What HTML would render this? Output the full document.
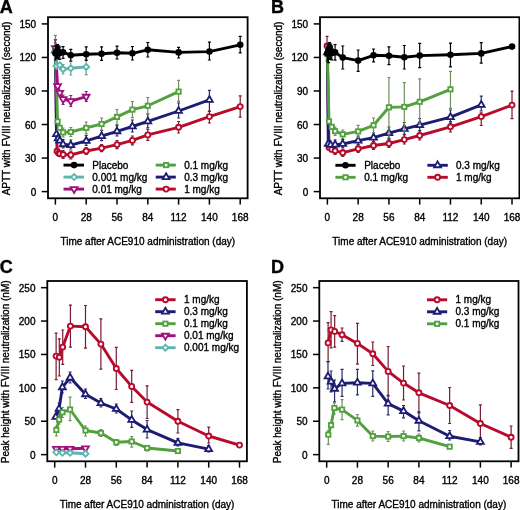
<!DOCTYPE html>
<html><head><meta charset="utf-8"><style>
html,body{margin:0;padding:0;background:#fff;}
body{width:520px;height:510px;overflow:hidden;}
svg{display:block;filter:blur(0.3px);}
text{font-family:"Liberation Sans", sans-serif;font-size:10px;fill:#000;stroke:#000;stroke-width:0.35px;}
.t{font-size:10px;}
</style></head><body>
<svg width="520" height="510" viewBox="0 0 520 510">
<rect width="520" height="510" fill="#fff"/>
<rect x="48" y="17.2" width="199.6" height="181.1" fill="none" stroke="#000" stroke-width="1.8"/>
<line x1="55.39" y1="198.3" x2="55.39" y2="204.6" stroke="#000" stroke-width="1.5"/>
<text class="t" x="55.39" y="220.9" text-anchor="middle">0</text>
<line x1="86.2" y1="198.3" x2="86.2" y2="204.6" stroke="#000" stroke-width="1.5"/>
<text class="t" x="86.2" y="220.9" text-anchor="middle">28</text>
<line x1="117" y1="198.3" x2="117" y2="204.6" stroke="#000" stroke-width="1.5"/>
<text class="t" x="117" y="220.9" text-anchor="middle">56</text>
<line x1="147.8" y1="198.3" x2="147.8" y2="204.6" stroke="#000" stroke-width="1.5"/>
<text class="t" x="147.8" y="220.9" text-anchor="middle">84</text>
<line x1="178.6" y1="198.3" x2="178.6" y2="204.6" stroke="#000" stroke-width="1.5"/>
<text class="t" x="178.6" y="220.9" text-anchor="middle">112</text>
<line x1="209.4" y1="198.3" x2="209.4" y2="204.6" stroke="#000" stroke-width="1.5"/>
<text class="t" x="209.4" y="220.9" text-anchor="middle">140</text>
<line x1="240.21" y1="198.3" x2="240.21" y2="204.6" stroke="#000" stroke-width="1.5"/>
<text class="t" x="240.21" y="220.9" text-anchor="middle">168</text>
<line x1="41.7" y1="191.59" x2="48" y2="191.59" stroke="#000" stroke-width="1.5"/>
<text class="t" x="36.2" y="195.59" text-anchor="end">0</text>
<line x1="41.7" y1="158.06" x2="48" y2="158.06" stroke="#000" stroke-width="1.5"/>
<text class="t" x="36.2" y="162.06" text-anchor="end">30</text>
<line x1="41.7" y1="124.52" x2="48" y2="124.52" stroke="#000" stroke-width="1.5"/>
<text class="t" x="36.2" y="128.52" text-anchor="end">60</text>
<line x1="41.7" y1="90.98" x2="48" y2="90.98" stroke="#000" stroke-width="1.5"/>
<text class="t" x="36.2" y="94.98" text-anchor="end">90</text>
<line x1="41.7" y1="57.44" x2="48" y2="57.44" stroke="#000" stroke-width="1.5"/>
<text class="t" x="36.2" y="61.44" text-anchor="end">120</text>
<line x1="41.7" y1="23.91" x2="48" y2="23.91" stroke="#000" stroke-width="1.5"/>
<text class="t" x="36.2" y="27.91" text-anchor="end">150</text>
<text x="147.8" y="244.5" text-anchor="middle">Time after ACE910 administration (day)</text>
<text transform="translate(10.1,108.45) rotate(-90)" text-anchor="middle">APTT with FVIII neutralization (second)</text>
<text x="-0.3" y="12.6" style="font-weight:bold;font-size:18px">A</text>
<path d="M55.39 51V43M53.89 43H56.89" stroke="#7a1a30" stroke-width="1.2" fill="none"/>
<path d="M55.39 51V58M53.89 58H56.89" stroke="#7a1a30" stroke-width="1.2" fill="none"/>
<path d="M63.09 154.5V150.5M61.59 150.5H64.59" stroke="#7a1a30" stroke-width="1.2" fill="none"/>
<path d="M63.09 154.5V158.5M61.59 158.5H64.59" stroke="#7a1a30" stroke-width="1.2" fill="none"/>
<path d="M70.79 154.9V151M69.29 151H72.29" stroke="#7a1a30" stroke-width="1.2" fill="none"/>
<path d="M70.79 154.9V159M69.29 159H72.29" stroke="#7a1a30" stroke-width="1.2" fill="none"/>
<path d="M86.2 151V147.5M84.7 147.5H87.7" stroke="#7a1a30" stroke-width="1.2" fill="none"/>
<path d="M86.2 151V154.5M84.7 154.5H87.7" stroke="#7a1a30" stroke-width="1.2" fill="none"/>
<path d="M101.6 148.1V144.5M100.1 144.5H103.1" stroke="#7a1a30" stroke-width="1.2" fill="none"/>
<path d="M101.6 148.1V151.7M100.1 151.7H103.1" stroke="#7a1a30" stroke-width="1.2" fill="none"/>
<path d="M117 144.6V140.5M115.5 140.5H118.5" stroke="#7a1a30" stroke-width="1.2" fill="none"/>
<path d="M117 144.6V148.7M115.5 148.7H118.5" stroke="#7a1a30" stroke-width="1.2" fill="none"/>
<path d="M132.4 140.4V136M130.9 136H133.9" stroke="#7a1a30" stroke-width="1.2" fill="none"/>
<path d="M132.4 140.4V144.8M130.9 144.8H133.9" stroke="#7a1a30" stroke-width="1.2" fill="none"/>
<path d="M147.8 134.9V129.5M146.3 129.5H149.3" stroke="#7a1a30" stroke-width="1.2" fill="none"/>
<path d="M147.8 134.9V140.3M146.3 140.3H149.3" stroke="#7a1a30" stroke-width="1.2" fill="none"/>
<path d="M178.6 127.3V121.5M177.1 121.5H180.1" stroke="#7a1a30" stroke-width="1.2" fill="none"/>
<path d="M178.6 127.3V133M177.1 133H180.1" stroke="#7a1a30" stroke-width="1.2" fill="none"/>
<path d="M209.4 116.6V111M207.9 111H210.9" stroke="#7a1a30" stroke-width="1.2" fill="none"/>
<path d="M209.4 116.6V123M207.9 123H210.9" stroke="#7a1a30" stroke-width="1.2" fill="none"/>
<path d="M240.21 106.6V95.9M238.71 95.9H241.71" stroke="#7a1a30" stroke-width="1.2" fill="none"/>
<path d="M240.21 106.6V117.2M238.71 117.2H241.71" stroke="#7a1a30" stroke-width="1.2" fill="none"/>
<polyline points="55.39,51 57.04,151.2 58.69,153.3 59.79,153.8 63.09,154.5 70.79,154.9 86.2,151 101.6,148.1 117,144.6 132.4,140.4 147.8,134.9 178.6,127.3 209.4,116.6 240.21,106.6" fill="none" stroke="#b80a2a" stroke-width="2.9" stroke-linejoin="round"/>
<circle cx="55.39" cy="51" r="2.5" fill="#fff" stroke="#b80a2a" stroke-width="1.9"/>
<circle cx="57.04" cy="151.2" r="2.5" fill="#fff" stroke="#b80a2a" stroke-width="1.9"/>
<circle cx="58.69" cy="153.3" r="2.5" fill="#fff" stroke="#b80a2a" stroke-width="1.9"/>
<circle cx="59.79" cy="153.8" r="2.5" fill="#fff" stroke="#b80a2a" stroke-width="1.9"/>
<circle cx="63.09" cy="154.5" r="2.5" fill="#fff" stroke="#b80a2a" stroke-width="1.9"/>
<circle cx="70.79" cy="154.9" r="2.5" fill="#fff" stroke="#b80a2a" stroke-width="1.9"/>
<circle cx="86.2" cy="151" r="2.5" fill="#fff" stroke="#b80a2a" stroke-width="1.9"/>
<circle cx="101.6" cy="148.1" r="2.5" fill="#fff" stroke="#b80a2a" stroke-width="1.9"/>
<circle cx="117" cy="144.6" r="2.5" fill="#fff" stroke="#b80a2a" stroke-width="1.9"/>
<circle cx="132.4" cy="140.4" r="2.5" fill="#fff" stroke="#b80a2a" stroke-width="1.9"/>
<circle cx="147.8" cy="134.9" r="2.5" fill="#fff" stroke="#b80a2a" stroke-width="1.9"/>
<circle cx="178.6" cy="127.3" r="2.5" fill="#fff" stroke="#b80a2a" stroke-width="1.9"/>
<circle cx="209.4" cy="116.6" r="2.5" fill="#fff" stroke="#b80a2a" stroke-width="1.9"/>
<circle cx="240.21" cy="106.6" r="2.5" fill="#fff" stroke="#b80a2a" stroke-width="1.9"/>
<path d="M55.39 50.5V39.6M53.89 39.6H56.89" stroke="#2c2c66" stroke-width="1.2" fill="none"/>
<path d="M55.39 50.5V57M53.89 57H56.89" stroke="#2c2c66" stroke-width="1.2" fill="none"/>
<path d="M63.09 144.3V139.5M61.59 139.5H64.59" stroke="#2c2c66" stroke-width="1.2" fill="none"/>
<path d="M63.09 144.3V148M61.59 148H64.59" stroke="#2c2c66" stroke-width="1.2" fill="none"/>
<path d="M70.79 145.1V140M69.29 140H72.29" stroke="#2c2c66" stroke-width="1.2" fill="none"/>
<path d="M70.79 145.1V149M69.29 149H72.29" stroke="#2c2c66" stroke-width="1.2" fill="none"/>
<path d="M86.2 140.9V135.5M84.7 135.5H87.7" stroke="#2c2c66" stroke-width="1.2" fill="none"/>
<path d="M86.2 140.9V145.3M84.7 145.3H87.7" stroke="#2c2c66" stroke-width="1.2" fill="none"/>
<path d="M101.6 136.1V130.5M100.1 130.5H103.1" stroke="#2c2c66" stroke-width="1.2" fill="none"/>
<path d="M101.6 136.1V140.7M100.1 140.7H103.1" stroke="#2c2c66" stroke-width="1.2" fill="none"/>
<path d="M117 131.3V125.5M115.5 125.5H118.5" stroke="#2c2c66" stroke-width="1.2" fill="none"/>
<path d="M117 131.3V136M115.5 136H118.5" stroke="#2c2c66" stroke-width="1.2" fill="none"/>
<path d="M132.4 126.5V120M130.9 120H133.9" stroke="#2c2c66" stroke-width="1.2" fill="none"/>
<path d="M132.4 126.5V132M130.9 132H133.9" stroke="#2c2c66" stroke-width="1.2" fill="none"/>
<path d="M147.8 121.4V114M146.3 114H149.3" stroke="#2c2c66" stroke-width="1.2" fill="none"/>
<path d="M147.8 121.4V127.8M146.3 127.8H149.3" stroke="#2c2c66" stroke-width="1.2" fill="none"/>
<path d="M178.6 111V103M177.1 103H180.1" stroke="#2c2c66" stroke-width="1.2" fill="none"/>
<path d="M178.6 111V118M177.1 118H180.1" stroke="#2c2c66" stroke-width="1.2" fill="none"/>
<path d="M209.4 99.9V90.3M207.9 90.3H210.9" stroke="#2c2c66" stroke-width="1.2" fill="none"/>
<path d="M209.4 99.9V111.5M207.9 111.5H210.9" stroke="#2c2c66" stroke-width="1.2" fill="none"/>
<polyline points="55.39,50.5 56.49,134.1 58.14,138.5 59.79,140.7 63.09,144.3 70.79,145.1 86.2,140.9 101.6,136.1 117,131.3 132.4,126.5 147.8,121.4 178.6,111 209.4,99.9" fill="none" stroke="#1c1c72" stroke-width="2.9" stroke-linejoin="round"/>
<path d="M55.39 46.6L58.79 52.45L51.99 52.45Z" fill="#fff" stroke="#1c1c72" stroke-width="1.8" stroke-linejoin="miter"/>
<path d="M56.49 130.2L59.89 136.05L53.09 136.05Z" fill="#fff" stroke="#1c1c72" stroke-width="1.8" stroke-linejoin="miter"/>
<path d="M58.14 134.6L61.54 140.45L54.74 140.45Z" fill="#fff" stroke="#1c1c72" stroke-width="1.8" stroke-linejoin="miter"/>
<path d="M59.79 136.8L63.19 142.65L56.39 142.65Z" fill="#fff" stroke="#1c1c72" stroke-width="1.8" stroke-linejoin="miter"/>
<path d="M63.09 140.4L66.49 146.25L59.69 146.25Z" fill="#fff" stroke="#1c1c72" stroke-width="1.8" stroke-linejoin="miter"/>
<path d="M70.79 141.2L74.19 147.05L67.39 147.05Z" fill="#fff" stroke="#1c1c72" stroke-width="1.8" stroke-linejoin="miter"/>
<path d="M86.2 137L89.6 142.85L82.8 142.85Z" fill="#fff" stroke="#1c1c72" stroke-width="1.8" stroke-linejoin="miter"/>
<path d="M101.6 132.2L105 138.05L98.2 138.05Z" fill="#fff" stroke="#1c1c72" stroke-width="1.8" stroke-linejoin="miter"/>
<path d="M117 127.4L120.4 133.25L113.6 133.25Z" fill="#fff" stroke="#1c1c72" stroke-width="1.8" stroke-linejoin="miter"/>
<path d="M132.4 122.6L135.8 128.45L129 128.45Z" fill="#fff" stroke="#1c1c72" stroke-width="1.8" stroke-linejoin="miter"/>
<path d="M147.8 117.5L151.2 123.35L144.4 123.35Z" fill="#fff" stroke="#1c1c72" stroke-width="1.8" stroke-linejoin="miter"/>
<path d="M178.6 107.1L182 112.95L175.2 112.95Z" fill="#fff" stroke="#1c1c72" stroke-width="1.8" stroke-linejoin="miter"/>
<path d="M209.4 96L212.8 101.85L206 101.85Z" fill="#fff" stroke="#1c1c72" stroke-width="1.8" stroke-linejoin="miter"/>
<path d="M55.39 50V35.4M53.89 35.4H56.89" stroke="#6f8f60" stroke-width="1.2" fill="none"/>
<path d="M55.39 50V58M53.89 58H56.89" stroke="#6f8f60" stroke-width="1.2" fill="none"/>
<path d="M63.09 132.4V128M61.59 128H64.59" stroke="#6f8f60" stroke-width="1.2" fill="none"/>
<path d="M63.09 132.4V137M61.59 137H64.59" stroke="#6f8f60" stroke-width="1.2" fill="none"/>
<path d="M70.79 132V127.5M69.29 127.5H72.29" stroke="#6f8f60" stroke-width="1.2" fill="none"/>
<path d="M70.79 132V136.5M69.29 136.5H72.29" stroke="#6f8f60" stroke-width="1.2" fill="none"/>
<path d="M86.2 127.9V122M84.7 122H87.7" stroke="#6f8f60" stroke-width="1.2" fill="none"/>
<path d="M86.2 127.9V133.8M84.7 133.8H87.7" stroke="#6f8f60" stroke-width="1.2" fill="none"/>
<path d="M101.6 124V118M100.1 118H103.1" stroke="#6f8f60" stroke-width="1.2" fill="none"/>
<path d="M101.6 124V130M100.1 130H103.1" stroke="#6f8f60" stroke-width="1.2" fill="none"/>
<path d="M117 116.9V109.5M115.5 109.5H118.5" stroke="#6f8f60" stroke-width="1.2" fill="none"/>
<path d="M117 116.9V124.3M115.5 124.3H118.5" stroke="#6f8f60" stroke-width="1.2" fill="none"/>
<path d="M132.4 109.6V101.5M130.9 101.5H133.9" stroke="#6f8f60" stroke-width="1.2" fill="none"/>
<path d="M132.4 109.6V117.7M130.9 117.7H133.9" stroke="#6f8f60" stroke-width="1.2" fill="none"/>
<path d="M147.8 105.8V97.5M146.3 97.5H149.3" stroke="#6f8f60" stroke-width="1.2" fill="none"/>
<path d="M147.8 105.8V114M146.3 114H149.3" stroke="#6f8f60" stroke-width="1.2" fill="none"/>
<path d="M178.6 91.6V80.4M177.1 80.4H180.1" stroke="#6f8f60" stroke-width="1.2" fill="none"/>
<path d="M178.6 91.6V101.3M177.1 101.3H180.1" stroke="#6f8f60" stroke-width="1.2" fill="none"/>
<polyline points="55.39,50 57.59,121.5 59.79,127.8 63.09,132.4 70.79,132 86.2,127.9 101.6,124 117,116.9 132.4,109.6 147.8,105.8 178.6,91.6" fill="none" stroke="#52a03e" stroke-width="2.9" stroke-linejoin="round"/>
<rect x="53.24" y="47.85" width="4.3" height="4.3" fill="#fff" stroke="#52a03e" stroke-width="1.8"/>
<rect x="55.44" y="119.35" width="4.3" height="4.3" fill="#fff" stroke="#52a03e" stroke-width="1.8"/>
<rect x="57.64" y="125.65" width="4.3" height="4.3" fill="#fff" stroke="#52a03e" stroke-width="1.8"/>
<rect x="60.94" y="130.25" width="4.3" height="4.3" fill="#fff" stroke="#52a03e" stroke-width="1.8"/>
<rect x="68.64" y="129.85" width="4.3" height="4.3" fill="#fff" stroke="#52a03e" stroke-width="1.8"/>
<rect x="84.05" y="125.75" width="4.3" height="4.3" fill="#fff" stroke="#52a03e" stroke-width="1.8"/>
<rect x="99.45" y="121.85" width="4.3" height="4.3" fill="#fff" stroke="#52a03e" stroke-width="1.8"/>
<rect x="114.85" y="114.75" width="4.3" height="4.3" fill="#fff" stroke="#52a03e" stroke-width="1.8"/>
<rect x="130.25" y="107.45" width="4.3" height="4.3" fill="#fff" stroke="#52a03e" stroke-width="1.8"/>
<rect x="145.65" y="103.65" width="4.3" height="4.3" fill="#fff" stroke="#52a03e" stroke-width="1.8"/>
<rect x="176.45" y="89.45" width="4.3" height="4.3" fill="#fff" stroke="#52a03e" stroke-width="1.8"/>
<path d="M55.39 48V40M53.89 40H56.89" stroke="#7a2a66" stroke-width="1.2" fill="none"/>
<path d="M55.39 48V57M53.89 57H56.89" stroke="#7a2a66" stroke-width="1.2" fill="none"/>
<path d="M63.09 99.1V95M61.59 95H64.59" stroke="#7a2a66" stroke-width="1.2" fill="none"/>
<path d="M63.09 99.1V104.5M61.59 104.5H64.59" stroke="#7a2a66" stroke-width="1.2" fill="none"/>
<path d="M70.79 101.1V95.5M69.29 95.5H72.29" stroke="#7a2a66" stroke-width="1.2" fill="none"/>
<path d="M70.79 101.1V106.5M69.29 106.5H72.29" stroke="#7a2a66" stroke-width="1.2" fill="none"/>
<path d="M86.2 96.7V91.5M84.7 91.5H87.7" stroke="#7a2a66" stroke-width="1.2" fill="none"/>
<path d="M86.2 96.7V101.5M84.7 101.5H87.7" stroke="#7a2a66" stroke-width="1.2" fill="none"/>
<polyline points="55.39,48 57.59,86.1 59.79,92.9 63.09,99.1 70.79,101.1 86.2,96.7" fill="none" stroke="#a0107e" stroke-width="2.9" stroke-linejoin="round"/>
<path d="M55.39 51.9L58.79 46.05L51.99 46.05Z" fill="#fff" stroke="#a0107e" stroke-width="1.8" stroke-linejoin="miter"/>
<path d="M57.59 90L60.99 84.15L54.19 84.15Z" fill="#fff" stroke="#a0107e" stroke-width="1.8" stroke-linejoin="miter"/>
<path d="M59.79 96.8L63.19 90.95L56.39 90.95Z" fill="#fff" stroke="#a0107e" stroke-width="1.8" stroke-linejoin="miter"/>
<path d="M63.09 103L66.49 97.15L59.69 97.15Z" fill="#fff" stroke="#a0107e" stroke-width="1.8" stroke-linejoin="miter"/>
<path d="M70.79 105L74.19 99.15L67.39 99.15Z" fill="#fff" stroke="#a0107e" stroke-width="1.8" stroke-linejoin="miter"/>
<path d="M86.2 100.6L89.6 94.75L82.8 94.75Z" fill="#fff" stroke="#a0107e" stroke-width="1.8" stroke-linejoin="miter"/>
<path d="M55.39 52V44M53.89 44H56.89" stroke="#6f9c98" stroke-width="1.2" fill="none"/>
<path d="M55.39 52V58M53.89 58H56.89" stroke="#6f9c98" stroke-width="1.2" fill="none"/>
<path d="M63.09 69.2V64.5M61.59 64.5H64.59" stroke="#6f9c98" stroke-width="1.2" fill="none"/>
<path d="M63.09 69.2V74M61.59 74H64.59" stroke="#6f9c98" stroke-width="1.2" fill="none"/>
<path d="M70.79 68.3V61.5M69.29 61.5H72.29" stroke="#6f9c98" stroke-width="1.2" fill="none"/>
<path d="M70.79 68.3V75M69.29 75H72.29" stroke="#6f9c98" stroke-width="1.2" fill="none"/>
<path d="M86.2 66.9V59M84.7 59H87.7" stroke="#6f9c98" stroke-width="1.2" fill="none"/>
<path d="M86.2 66.9V74.7M84.7 74.7H87.7" stroke="#6f9c98" stroke-width="1.2" fill="none"/>
<polyline points="55.39,52 56.49,66 59.79,65.2 63.09,69.2 70.79,68.3 86.2,66.9" fill="none" stroke="#5fb3ad" stroke-width="2.9" stroke-linejoin="round"/>
<path d="M55.39 49L58.39 52L55.39 55L52.39 52Z" fill="#fff" stroke="#5fb3ad" stroke-width="1.8"/>
<path d="M56.49 63L59.49 66L56.49 69L53.49 66Z" fill="#fff" stroke="#5fb3ad" stroke-width="1.8"/>
<path d="M59.79 62.2L62.79 65.2L59.79 68.2L56.79 65.2Z" fill="#fff" stroke="#5fb3ad" stroke-width="1.8"/>
<path d="M63.09 66.2L66.09 69.2L63.09 72.2L60.09 69.2Z" fill="#fff" stroke="#5fb3ad" stroke-width="1.8"/>
<path d="M70.79 65.3L73.79 68.3L70.79 71.3L67.79 68.3Z" fill="#fff" stroke="#5fb3ad" stroke-width="1.8"/>
<path d="M86.2 63.9L89.2 66.9L86.2 69.9L83.2 66.9Z" fill="#fff" stroke="#5fb3ad" stroke-width="1.8"/>
<path d="M55.39 53.3V46M53.89 46H56.89" stroke="#000000" stroke-width="1.2" fill="none"/>
<path d="M55.39 53.3V60M53.89 60H56.89" stroke="#000000" stroke-width="1.2" fill="none"/>
<path d="M56.49 51.5V45M54.99 45H57.99" stroke="#000000" stroke-width="1.2" fill="none"/>
<path d="M56.49 51.5V58.5M54.99 58.5H57.99" stroke="#000000" stroke-width="1.2" fill="none"/>
<path d="M57.59 51V44.5M56.09 44.5H59.09" stroke="#000000" stroke-width="1.2" fill="none"/>
<path d="M57.59 51V58M56.09 58H59.09" stroke="#000000" stroke-width="1.2" fill="none"/>
<path d="M58.69 52V46M57.19 46H60.19" stroke="#000000" stroke-width="1.2" fill="none"/>
<path d="M58.69 52V59M57.19 59H60.19" stroke="#000000" stroke-width="1.2" fill="none"/>
<path d="M59.79 53V47M58.29 47H61.29" stroke="#000000" stroke-width="1.2" fill="none"/>
<path d="M59.79 53V59.5M58.29 59.5H61.29" stroke="#000000" stroke-width="1.2" fill="none"/>
<path d="M63.09 52.3V46.7M61.59 46.7H64.59" stroke="#000000" stroke-width="1.2" fill="none"/>
<path d="M63.09 52.3V58.4M61.59 58.4H64.59" stroke="#000000" stroke-width="1.2" fill="none"/>
<path d="M70.79 55.2V49.4M69.29 49.4H72.29" stroke="#000000" stroke-width="1.2" fill="none"/>
<path d="M70.79 55.2V61M69.29 61H72.29" stroke="#000000" stroke-width="1.2" fill="none"/>
<path d="M86.2 54.2V46.9M84.7 46.9H87.7" stroke="#000000" stroke-width="1.2" fill="none"/>
<path d="M86.2 54.2V60.4M84.7 60.4H87.7" stroke="#000000" stroke-width="1.2" fill="none"/>
<path d="M101.6 53.7V46.9M100.1 46.9H103.1" stroke="#000000" stroke-width="1.2" fill="none"/>
<path d="M101.6 53.7V60.4M100.1 60.4H103.1" stroke="#000000" stroke-width="1.2" fill="none"/>
<path d="M117 52.7V46.2M115.5 46.2H118.5" stroke="#000000" stroke-width="1.2" fill="none"/>
<path d="M117 52.7V59M115.5 59H118.5" stroke="#000000" stroke-width="1.2" fill="none"/>
<path d="M132.4 53.3V46.5M130.9 46.5H133.9" stroke="#000000" stroke-width="1.2" fill="none"/>
<path d="M132.4 53.3V60M130.9 60H133.9" stroke="#000000" stroke-width="1.2" fill="none"/>
<path d="M147.8 49.8V42.5M146.3 42.5H149.3" stroke="#000000" stroke-width="1.2" fill="none"/>
<path d="M147.8 49.8V57M146.3 57H149.3" stroke="#000000" stroke-width="1.2" fill="none"/>
<path d="M178.6 52.4V47.3M177.1 47.3H180.1" stroke="#000000" stroke-width="1.2" fill="none"/>
<path d="M178.6 52.4V58M177.1 58H180.1" stroke="#000000" stroke-width="1.2" fill="none"/>
<path d="M209.4 51.6V42.2M207.9 42.2H210.9" stroke="#000000" stroke-width="1.2" fill="none"/>
<path d="M209.4 51.6V60M207.9 60H210.9" stroke="#000000" stroke-width="1.2" fill="none"/>
<path d="M240.21 44.8V36.4M238.71 36.4H241.71" stroke="#000000" stroke-width="1.2" fill="none"/>
<path d="M240.21 44.8V52.9M238.71 52.9H241.71" stroke="#000000" stroke-width="1.2" fill="none"/>
<polyline points="55.39,53.3 56.49,51.5 57.59,51 58.69,52 59.79,53 63.09,52.3 70.79,55.2 86.2,54.2 101.6,53.7 117,52.7 132.4,53.3 147.8,49.8 178.6,52.4 209.4,51.6 240.21,44.8" fill="none" stroke="#000000" stroke-width="2.9" stroke-linejoin="round"/>
<circle cx="55.39" cy="53.3" r="3.3" fill="#000000"/>
<circle cx="56.49" cy="51.5" r="3.3" fill="#000000"/>
<circle cx="57.59" cy="51" r="3.3" fill="#000000"/>
<circle cx="58.69" cy="52" r="3.3" fill="#000000"/>
<circle cx="59.79" cy="53" r="3.3" fill="#000000"/>
<circle cx="63.09" cy="52.3" r="3.3" fill="#000000"/>
<circle cx="70.79" cy="55.2" r="3.3" fill="#000000"/>
<circle cx="86.2" cy="54.2" r="3.3" fill="#000000"/>
<circle cx="101.6" cy="53.7" r="3.3" fill="#000000"/>
<circle cx="117" cy="52.7" r="3.3" fill="#000000"/>
<circle cx="132.4" cy="53.3" r="3.3" fill="#000000"/>
<circle cx="147.8" cy="49.8" r="3.3" fill="#000000"/>
<circle cx="178.6" cy="52.4" r="3.3" fill="#000000"/>
<circle cx="209.4" cy="51.6" r="3.3" fill="#000000"/>
<circle cx="240.21" cy="44.8" r="3.3" fill="#000000"/>
<line x1="63.5" y1="165.1" x2="84" y2="165.1" stroke="#000000" stroke-width="2.9"/>
<circle cx="74.1" cy="165.1" r="3.3" fill="#000000"/>
<text x="92.3" y="168.6">Placebo</text>
<line x1="63.5" y1="177.1" x2="84" y2="177.1" stroke="#5fb3ad" stroke-width="2.9"/>
<path d="M74.1 174.1L77.1 177.1L74.1 180.1L71.1 177.1Z" fill="#fff" stroke="#5fb3ad" stroke-width="1.8"/>
<text x="92.3" y="180.6">0.001 mg/kg</text>
<line x1="63.5" y1="189.1" x2="84" y2="189.1" stroke="#a0107e" stroke-width="2.9"/>
<path d="M74.1 193L77.5 187.15L70.7 187.15Z" fill="#fff" stroke="#a0107e" stroke-width="1.8" stroke-linejoin="miter"/>
<text x="92.3" y="192.6">0.01 mg/kg</text>
<line x1="155.7" y1="165.1" x2="175.8" y2="165.1" stroke="#52a03e" stroke-width="2.9"/>
<rect x="163.95" y="162.95" width="4.3" height="4.3" fill="#fff" stroke="#52a03e" stroke-width="1.8"/>
<text x="184.2" y="168.6">0.1 mg/kg</text>
<line x1="155.7" y1="177.1" x2="175.8" y2="177.1" stroke="#1c1c72" stroke-width="2.9"/>
<path d="M166.1 173.2L169.5 179.05L162.7 179.05Z" fill="#fff" stroke="#1c1c72" stroke-width="1.8" stroke-linejoin="miter"/>
<text x="184.2" y="180.6">0.3 mg/kg</text>
<line x1="155.7" y1="189.1" x2="175.8" y2="189.1" stroke="#b80a2a" stroke-width="2.9"/>
<circle cx="166.1" cy="189.1" r="2.5" fill="#fff" stroke="#b80a2a" stroke-width="1.9"/>
<text x="184.2" y="192.6">1 mg/kg</text>
<rect x="320" y="17.2" width="199.4" height="181.1" fill="none" stroke="#000" stroke-width="1.8"/>
<line x1="327.39" y1="198.3" x2="327.39" y2="204.6" stroke="#000" stroke-width="1.5"/>
<text class="t" x="327.39" y="220.9" text-anchor="middle">0</text>
<line x1="358.16" y1="198.3" x2="358.16" y2="204.6" stroke="#000" stroke-width="1.5"/>
<text class="t" x="358.16" y="220.9" text-anchor="middle">28</text>
<line x1="388.93" y1="198.3" x2="388.93" y2="204.6" stroke="#000" stroke-width="1.5"/>
<text class="t" x="388.93" y="220.9" text-anchor="middle">56</text>
<line x1="419.7" y1="198.3" x2="419.7" y2="204.6" stroke="#000" stroke-width="1.5"/>
<text class="t" x="419.7" y="220.9" text-anchor="middle">84</text>
<line x1="450.47" y1="198.3" x2="450.47" y2="204.6" stroke="#000" stroke-width="1.5"/>
<text class="t" x="450.47" y="220.9" text-anchor="middle">112</text>
<line x1="481.24" y1="198.3" x2="481.24" y2="204.6" stroke="#000" stroke-width="1.5"/>
<text class="t" x="481.24" y="220.9" text-anchor="middle">140</text>
<line x1="512.01" y1="198.3" x2="512.01" y2="204.6" stroke="#000" stroke-width="1.5"/>
<text class="t" x="512.01" y="220.9" text-anchor="middle">168</text>
<line x1="313.7" y1="191.59" x2="320" y2="191.59" stroke="#000" stroke-width="1.5"/>
<text class="t" x="308.2" y="195.59" text-anchor="end">0</text>
<line x1="313.7" y1="158.06" x2="320" y2="158.06" stroke="#000" stroke-width="1.5"/>
<text class="t" x="308.2" y="162.06" text-anchor="end">30</text>
<line x1="313.7" y1="124.52" x2="320" y2="124.52" stroke="#000" stroke-width="1.5"/>
<text class="t" x="308.2" y="128.52" text-anchor="end">60</text>
<line x1="313.7" y1="90.98" x2="320" y2="90.98" stroke="#000" stroke-width="1.5"/>
<text class="t" x="308.2" y="94.98" text-anchor="end">90</text>
<line x1="313.7" y1="57.44" x2="320" y2="57.44" stroke="#000" stroke-width="1.5"/>
<text class="t" x="308.2" y="61.44" text-anchor="end">120</text>
<line x1="313.7" y1="23.91" x2="320" y2="23.91" stroke="#000" stroke-width="1.5"/>
<text class="t" x="308.2" y="27.91" text-anchor="end">150</text>
<text x="419.7" y="244.5" text-anchor="middle">Time after ACE910 administration (day)</text>
<text transform="translate(282.1,108.45) rotate(-90)" text-anchor="middle">APTT with FVIII neutralization (second)</text>
<text x="271" y="12.6" style="font-weight:bold;font-size:18px">B</text>
<path d="M327.06 46V36.3M325.56 36.3H328.56" stroke="#7a1a30" stroke-width="1.2" fill="none"/>
<path d="M327.06 46V54M325.56 54H328.56" stroke="#7a1a30" stroke-width="1.2" fill="none"/>
<path d="M335.08 150.8V147M333.58 147H336.58" stroke="#7a1a30" stroke-width="1.2" fill="none"/>
<path d="M335.08 150.8V154.5M333.58 154.5H336.58" stroke="#7a1a30" stroke-width="1.2" fill="none"/>
<path d="M342.77 152.7V149M341.27 149H344.27" stroke="#7a1a30" stroke-width="1.2" fill="none"/>
<path d="M342.77 152.7V156.5M341.27 156.5H344.27" stroke="#7a1a30" stroke-width="1.2" fill="none"/>
<path d="M358.16 148.8V145M356.66 145H359.66" stroke="#7a1a30" stroke-width="1.2" fill="none"/>
<path d="M358.16 148.8V152.5M356.66 152.5H359.66" stroke="#7a1a30" stroke-width="1.2" fill="none"/>
<path d="M373.54 145.5V141.5M372.04 141.5H375.04" stroke="#7a1a30" stroke-width="1.2" fill="none"/>
<path d="M373.54 145.5V149.5M372.04 149.5H375.04" stroke="#7a1a30" stroke-width="1.2" fill="none"/>
<path d="M388.93 143.5V139.5M387.43 139.5H390.43" stroke="#7a1a30" stroke-width="1.2" fill="none"/>
<path d="M388.93 143.5V147.5M387.43 147.5H390.43" stroke="#7a1a30" stroke-width="1.2" fill="none"/>
<path d="M404.31 139.6V135M402.81 135H405.81" stroke="#7a1a30" stroke-width="1.2" fill="none"/>
<path d="M404.31 139.6V144M402.81 144H405.81" stroke="#7a1a30" stroke-width="1.2" fill="none"/>
<path d="M419.7 135.5V131M418.2 131H421.2" stroke="#7a1a30" stroke-width="1.2" fill="none"/>
<path d="M419.7 135.5V140M418.2 140H421.2" stroke="#7a1a30" stroke-width="1.2" fill="none"/>
<path d="M450.47 126.8V121.5M448.97 121.5H451.97" stroke="#7a1a30" stroke-width="1.2" fill="none"/>
<path d="M450.47 126.8V132M448.97 132H451.97" stroke="#7a1a30" stroke-width="1.2" fill="none"/>
<path d="M481.24 116.6V112.8M479.74 112.8H482.74" stroke="#7a1a30" stroke-width="1.2" fill="none"/>
<path d="M481.24 116.6V125.5M479.74 125.5H482.74" stroke="#7a1a30" stroke-width="1.2" fill="none"/>
<path d="M512.01 105.1V91.1M510.51 91.1H513.51" stroke="#7a1a30" stroke-width="1.2" fill="none"/>
<path d="M512.01 105.1V118.6M510.51 118.6H513.51" stroke="#7a1a30" stroke-width="1.2" fill="none"/>
<polyline points="327.06,46 329.03,147.5 331.78,149.4 335.08,150.8 342.77,152.7 358.16,148.8 373.54,145.5 388.93,143.5 404.31,139.6 419.7,135.5 450.47,126.8 481.24,116.6 512.01,105.1" fill="none" stroke="#b80a2a" stroke-width="2.9" stroke-linejoin="round"/>
<circle cx="327.06" cy="46" r="2.5" fill="#fff" stroke="#b80a2a" stroke-width="1.9"/>
<circle cx="329.03" cy="147.5" r="2.5" fill="#fff" stroke="#b80a2a" stroke-width="1.9"/>
<circle cx="331.78" cy="149.4" r="2.5" fill="#fff" stroke="#b80a2a" stroke-width="1.9"/>
<circle cx="335.08" cy="150.8" r="2.5" fill="#fff" stroke="#b80a2a" stroke-width="1.9"/>
<circle cx="342.77" cy="152.7" r="2.5" fill="#fff" stroke="#b80a2a" stroke-width="1.9"/>
<circle cx="358.16" cy="148.8" r="2.5" fill="#fff" stroke="#b80a2a" stroke-width="1.9"/>
<circle cx="373.54" cy="145.5" r="2.5" fill="#fff" stroke="#b80a2a" stroke-width="1.9"/>
<circle cx="388.93" cy="143.5" r="2.5" fill="#fff" stroke="#b80a2a" stroke-width="1.9"/>
<circle cx="404.31" cy="139.6" r="2.5" fill="#fff" stroke="#b80a2a" stroke-width="1.9"/>
<circle cx="419.7" cy="135.5" r="2.5" fill="#fff" stroke="#b80a2a" stroke-width="1.9"/>
<circle cx="450.47" cy="126.8" r="2.5" fill="#fff" stroke="#b80a2a" stroke-width="1.9"/>
<circle cx="481.24" cy="116.6" r="2.5" fill="#fff" stroke="#b80a2a" stroke-width="1.9"/>
<circle cx="512.01" cy="105.1" r="2.5" fill="#fff" stroke="#b80a2a" stroke-width="1.9"/>
<path d="M327.39 52.5V45M325.89 45H328.89" stroke="#2c2c66" stroke-width="1.2" fill="none"/>
<path d="M327.39 52.5V59M325.89 59H328.89" stroke="#2c2c66" stroke-width="1.2" fill="none"/>
<path d="M335.08 144.6V140M333.58 140H336.58" stroke="#2c2c66" stroke-width="1.2" fill="none"/>
<path d="M335.08 144.6V148M333.58 148H336.58" stroke="#2c2c66" stroke-width="1.2" fill="none"/>
<path d="M342.77 144V139.5M341.27 139.5H344.27" stroke="#2c2c66" stroke-width="1.2" fill="none"/>
<path d="M342.77 144V147.5M341.27 147.5H344.27" stroke="#2c2c66" stroke-width="1.2" fill="none"/>
<path d="M358.16 140.7V136M356.66 136H359.66" stroke="#2c2c66" stroke-width="1.2" fill="none"/>
<path d="M358.16 140.7V144.5M356.66 144.5H359.66" stroke="#2c2c66" stroke-width="1.2" fill="none"/>
<path d="M373.54 137.6V132.5M372.04 132.5H375.04" stroke="#2c2c66" stroke-width="1.2" fill="none"/>
<path d="M373.54 137.6V141.5M372.04 141.5H375.04" stroke="#2c2c66" stroke-width="1.2" fill="none"/>
<path d="M388.93 133.2V127M387.43 127H390.43" stroke="#2c2c66" stroke-width="1.2" fill="none"/>
<path d="M388.93 133.2V138.5M387.43 138.5H390.43" stroke="#2c2c66" stroke-width="1.2" fill="none"/>
<path d="M404.31 128.9V122.5M402.81 122.5H405.81" stroke="#2c2c66" stroke-width="1.2" fill="none"/>
<path d="M404.31 128.9V134.3M402.81 134.3H405.81" stroke="#2c2c66" stroke-width="1.2" fill="none"/>
<path d="M419.7 125.1V118.5M418.2 118.5H421.2" stroke="#2c2c66" stroke-width="1.2" fill="none"/>
<path d="M419.7 125.1V130.5M418.2 130.5H421.2" stroke="#2c2c66" stroke-width="1.2" fill="none"/>
<path d="M450.47 117.1V110M448.97 110H451.97" stroke="#2c2c66" stroke-width="1.2" fill="none"/>
<path d="M450.47 117.1V123.2M448.97 123.2H451.97" stroke="#2c2c66" stroke-width="1.2" fill="none"/>
<path d="M481.24 104.9V96.2M479.74 96.2H482.74" stroke="#2c2c66" stroke-width="1.2" fill="none"/>
<path d="M481.24 104.9V111M479.74 111H482.74" stroke="#2c2c66" stroke-width="1.2" fill="none"/>
<polyline points="327.39,52.5 328.26,144 330.68,145 335.08,144.6 342.77,144 358.16,140.7 373.54,137.6 388.93,133.2 404.31,128.9 419.7,125.1 450.47,117.1 481.24,104.9" fill="none" stroke="#1c1c72" stroke-width="2.9" stroke-linejoin="round"/>
<path d="M327.39 48.6L330.79 54.45L323.99 54.45Z" fill="#fff" stroke="#1c1c72" stroke-width="1.8" stroke-linejoin="miter"/>
<path d="M328.26 140.1L331.66 145.95L324.86 145.95Z" fill="#fff" stroke="#1c1c72" stroke-width="1.8" stroke-linejoin="miter"/>
<path d="M330.68 141.1L334.08 146.95L327.28 146.95Z" fill="#fff" stroke="#1c1c72" stroke-width="1.8" stroke-linejoin="miter"/>
<path d="M335.08 140.7L338.48 146.55L331.68 146.55Z" fill="#fff" stroke="#1c1c72" stroke-width="1.8" stroke-linejoin="miter"/>
<path d="M342.77 140.1L346.17 145.95L339.37 145.95Z" fill="#fff" stroke="#1c1c72" stroke-width="1.8" stroke-linejoin="miter"/>
<path d="M358.16 136.8L361.56 142.65L354.76 142.65Z" fill="#fff" stroke="#1c1c72" stroke-width="1.8" stroke-linejoin="miter"/>
<path d="M373.54 133.7L376.94 139.55L370.14 139.55Z" fill="#fff" stroke="#1c1c72" stroke-width="1.8" stroke-linejoin="miter"/>
<path d="M388.93 129.3L392.33 135.15L385.53 135.15Z" fill="#fff" stroke="#1c1c72" stroke-width="1.8" stroke-linejoin="miter"/>
<path d="M404.31 125L407.71 130.85L400.91 130.85Z" fill="#fff" stroke="#1c1c72" stroke-width="1.8" stroke-linejoin="miter"/>
<path d="M419.7 121.2L423.1 127.05L416.3 127.05Z" fill="#fff" stroke="#1c1c72" stroke-width="1.8" stroke-linejoin="miter"/>
<path d="M450.47 113.2L453.87 119.05L447.07 119.05Z" fill="#fff" stroke="#1c1c72" stroke-width="1.8" stroke-linejoin="miter"/>
<path d="M481.24 101L484.64 106.85L477.84 106.85Z" fill="#fff" stroke="#1c1c72" stroke-width="1.8" stroke-linejoin="miter"/>
<path d="M327.39 54V47M325.89 47H328.89" stroke="#6f8f60" stroke-width="1.2" fill="none"/>
<path d="M327.39 54V61M325.89 61H328.89" stroke="#6f8f60" stroke-width="1.2" fill="none"/>
<path d="M335.08 131.2V127M333.58 127H336.58" stroke="#6f8f60" stroke-width="1.2" fill="none"/>
<path d="M335.08 131.2V135.5M333.58 135.5H336.58" stroke="#6f8f60" stroke-width="1.2" fill="none"/>
<path d="M342.77 134.3V130M341.27 130H344.27" stroke="#6f8f60" stroke-width="1.2" fill="none"/>
<path d="M342.77 134.3V138.5M341.27 138.5H344.27" stroke="#6f8f60" stroke-width="1.2" fill="none"/>
<path d="M358.16 131.4V125.3M356.66 125.3H359.66" stroke="#6f8f60" stroke-width="1.2" fill="none"/>
<path d="M358.16 131.4V137.6M356.66 137.6H359.66" stroke="#6f8f60" stroke-width="1.2" fill="none"/>
<path d="M373.54 125.3V118M372.04 118H375.04" stroke="#6f8f60" stroke-width="1.2" fill="none"/>
<path d="M373.54 125.3V132.5M372.04 132.5H375.04" stroke="#6f8f60" stroke-width="1.2" fill="none"/>
<path d="M388.93 107.3V77.5M387.43 77.5H390.43" stroke="#6f8f60" stroke-width="1.2" fill="none"/>
<path d="M388.93 107.3V137.6M387.43 137.6H390.43" stroke="#6f8f60" stroke-width="1.2" fill="none"/>
<path d="M404.31 106.9V82.7M402.81 82.7H405.81" stroke="#6f8f60" stroke-width="1.2" fill="none"/>
<path d="M404.31 106.9V130.8M402.81 130.8H405.81" stroke="#6f8f60" stroke-width="1.2" fill="none"/>
<path d="M419.7 101.8V78.9M418.2 78.9H421.2" stroke="#6f8f60" stroke-width="1.2" fill="none"/>
<path d="M419.7 101.8V124.2M418.2 124.2H421.2" stroke="#6f8f60" stroke-width="1.2" fill="none"/>
<path d="M450.47 89.3V71.3M448.97 71.3H451.97" stroke="#6f8f60" stroke-width="1.2" fill="none"/>
<path d="M450.47 89.3V108.4M448.97 108.4H451.97" stroke="#6f8f60" stroke-width="1.2" fill="none"/>
<polyline points="327.39,54 329.03,121.4 331.78,126.9 335.08,131.2 342.77,134.3 358.16,131.4 373.54,125.3 388.93,107.3 404.31,106.9 419.7,101.8 450.47,89.3" fill="none" stroke="#52a03e" stroke-width="2.9" stroke-linejoin="round"/>
<rect x="325.24" y="51.85" width="4.3" height="4.3" fill="#fff" stroke="#52a03e" stroke-width="1.8"/>
<rect x="326.88" y="119.25" width="4.3" height="4.3" fill="#fff" stroke="#52a03e" stroke-width="1.8"/>
<rect x="329.63" y="124.75" width="4.3" height="4.3" fill="#fff" stroke="#52a03e" stroke-width="1.8"/>
<rect x="332.93" y="129.05" width="4.3" height="4.3" fill="#fff" stroke="#52a03e" stroke-width="1.8"/>
<rect x="340.62" y="132.15" width="4.3" height="4.3" fill="#fff" stroke="#52a03e" stroke-width="1.8"/>
<rect x="356.01" y="129.25" width="4.3" height="4.3" fill="#fff" stroke="#52a03e" stroke-width="1.8"/>
<rect x="371.39" y="123.15" width="4.3" height="4.3" fill="#fff" stroke="#52a03e" stroke-width="1.8"/>
<rect x="386.78" y="105.15" width="4.3" height="4.3" fill="#fff" stroke="#52a03e" stroke-width="1.8"/>
<rect x="402.16" y="104.75" width="4.3" height="4.3" fill="#fff" stroke="#52a03e" stroke-width="1.8"/>
<rect x="417.55" y="99.65" width="4.3" height="4.3" fill="#fff" stroke="#52a03e" stroke-width="1.8"/>
<rect x="448.32" y="87.15" width="4.3" height="4.3" fill="#fff" stroke="#52a03e" stroke-width="1.8"/>
<path d="M327.39 53.5V47M325.89 47H328.89" stroke="#000000" stroke-width="1.2" fill="none"/>
<path d="M327.39 53.5V61M325.89 61H328.89" stroke="#000000" stroke-width="1.2" fill="none"/>
<path d="M328.48 50.5V44M326.98 44H329.98" stroke="#000000" stroke-width="1.2" fill="none"/>
<path d="M328.48 50.5V62.7M326.98 62.7H329.98" stroke="#000000" stroke-width="1.2" fill="none"/>
<path d="M329.58 47.8V42.6M328.08 42.6H331.08" stroke="#000000" stroke-width="1.2" fill="none"/>
<path d="M329.58 47.8V59.3M328.08 59.3H331.08" stroke="#000000" stroke-width="1.2" fill="none"/>
<path d="M330.68 50.5V44.1M329.18 44.1H332.18" stroke="#000000" stroke-width="1.2" fill="none"/>
<path d="M330.68 50.5V59.3M329.18 59.3H332.18" stroke="#000000" stroke-width="1.2" fill="none"/>
<path d="M331.78 53V46M330.28 46H333.28" stroke="#000000" stroke-width="1.2" fill="none"/>
<path d="M331.78 53V60M330.28 60H333.28" stroke="#000000" stroke-width="1.2" fill="none"/>
<path d="M335.08 52.4V44.5M333.58 44.5H336.58" stroke="#000000" stroke-width="1.2" fill="none"/>
<path d="M335.08 52.4V60.2M333.58 60.2H336.58" stroke="#000000" stroke-width="1.2" fill="none"/>
<path d="M342.77 57.6V46M341.27 46H344.27" stroke="#000000" stroke-width="1.2" fill="none"/>
<path d="M342.77 57.6V69M341.27 69H344.27" stroke="#000000" stroke-width="1.2" fill="none"/>
<path d="M358.16 60.6V50M356.66 50H359.66" stroke="#000000" stroke-width="1.2" fill="none"/>
<path d="M358.16 60.6V71.4M356.66 71.4H359.66" stroke="#000000" stroke-width="1.2" fill="none"/>
<path d="M373.54 55.3V49M372.04 49H375.04" stroke="#000000" stroke-width="1.2" fill="none"/>
<path d="M373.54 55.3V61.8M372.04 61.8H375.04" stroke="#000000" stroke-width="1.2" fill="none"/>
<path d="M388.93 55.7V46.9M387.43 46.9H390.43" stroke="#000000" stroke-width="1.2" fill="none"/>
<path d="M388.93 55.7V64.7M387.43 64.7H390.43" stroke="#000000" stroke-width="1.2" fill="none"/>
<path d="M404.31 57.3V45.5M402.81 45.5H405.81" stroke="#000000" stroke-width="1.2" fill="none"/>
<path d="M404.31 57.3V69M402.81 69H405.81" stroke="#000000" stroke-width="1.2" fill="none"/>
<path d="M419.7 55.6V43.3M418.2 43.3H421.2" stroke="#000000" stroke-width="1.2" fill="none"/>
<path d="M419.7 55.6V67.7M418.2 67.7H421.2" stroke="#000000" stroke-width="1.2" fill="none"/>
<path d="M450.47 54.7V43.2M448.97 43.2H451.97" stroke="#000000" stroke-width="1.2" fill="none"/>
<path d="M450.47 54.7V66.9M448.97 66.9H451.97" stroke="#000000" stroke-width="1.2" fill="none"/>
<path d="M481.24 53.4V42.7M479.74 42.7H482.74" stroke="#000000" stroke-width="1.2" fill="none"/>
<path d="M481.24 53.4V63.1M479.74 63.1H482.74" stroke="#000000" stroke-width="1.2" fill="none"/>
<polyline points="327.39,53.5 328.48,50.5 329.58,47.8 330.68,50.5 331.78,53 335.08,52.4 342.77,57.6 358.16,60.6 373.54,55.3 388.93,55.7 404.31,57.3 419.7,55.6 450.47,54.7 481.24,53.4 512.01,46.6" fill="none" stroke="#000000" stroke-width="2.9" stroke-linejoin="round"/>
<circle cx="327.39" cy="53.5" r="3.3" fill="#000000"/>
<circle cx="328.48" cy="50.5" r="3.3" fill="#000000"/>
<circle cx="329.58" cy="47.8" r="3.3" fill="#000000"/>
<circle cx="330.68" cy="50.5" r="3.3" fill="#000000"/>
<circle cx="331.78" cy="53" r="3.3" fill="#000000"/>
<circle cx="335.08" cy="52.4" r="3.3" fill="#000000"/>
<circle cx="342.77" cy="57.6" r="3.3" fill="#000000"/>
<circle cx="358.16" cy="60.6" r="3.3" fill="#000000"/>
<circle cx="373.54" cy="55.3" r="3.3" fill="#000000"/>
<circle cx="388.93" cy="55.7" r="3.3" fill="#000000"/>
<circle cx="404.31" cy="57.3" r="3.3" fill="#000000"/>
<circle cx="419.7" cy="55.6" r="3.3" fill="#000000"/>
<circle cx="450.47" cy="54.7" r="3.3" fill="#000000"/>
<circle cx="481.24" cy="53.4" r="3.3" fill="#000000"/>
<circle cx="512.01" cy="46.6" r="3.3" fill="#000000"/>
<line x1="335.4" y1="165.3" x2="355.6" y2="165.3" stroke="#000000" stroke-width="2.9"/>
<circle cx="345.5" cy="165.3" r="3.3" fill="#000000"/>
<text x="364.2" y="168.8">Placebo</text>
<line x1="335.4" y1="177.3" x2="355.6" y2="177.3" stroke="#52a03e" stroke-width="2.9"/>
<rect x="343.35" y="175.15" width="4.3" height="4.3" fill="#fff" stroke="#52a03e" stroke-width="1.8"/>
<text x="364.2" y="180.8">0.1 mg/kg</text>
<line x1="427.4" y1="165.3" x2="447.8" y2="165.3" stroke="#1c1c72" stroke-width="2.9"/>
<path d="M437.6 161.4L441 167.25L434.2 167.25Z" fill="#fff" stroke="#1c1c72" stroke-width="1.8" stroke-linejoin="miter"/>
<text x="456" y="168.8">0.3 mg/kg</text>
<line x1="427.4" y1="177.3" x2="447.8" y2="177.3" stroke="#b80a2a" stroke-width="2.9"/>
<circle cx="437.6" cy="177.3" r="2.5" fill="#fff" stroke="#b80a2a" stroke-width="1.9"/>
<text x="456" y="180.8">1 mg/kg</text>
<rect x="47.3" y="281" width="199.6" height="180.3" fill="none" stroke="#000" stroke-width="1.8"/>
<line x1="54.69" y1="461.3" x2="54.69" y2="467.6" stroke="#000" stroke-width="1.5"/>
<text class="t" x="54.69" y="483.9" text-anchor="middle">0</text>
<line x1="85.5" y1="461.3" x2="85.5" y2="467.6" stroke="#000" stroke-width="1.5"/>
<text class="t" x="85.5" y="483.9" text-anchor="middle">28</text>
<line x1="116.3" y1="461.3" x2="116.3" y2="467.6" stroke="#000" stroke-width="1.5"/>
<text class="t" x="116.3" y="483.9" text-anchor="middle">56</text>
<line x1="147.1" y1="461.3" x2="147.1" y2="467.6" stroke="#000" stroke-width="1.5"/>
<text class="t" x="147.1" y="483.9" text-anchor="middle">84</text>
<line x1="177.9" y1="461.3" x2="177.9" y2="467.6" stroke="#000" stroke-width="1.5"/>
<text class="t" x="177.9" y="483.9" text-anchor="middle">112</text>
<line x1="208.7" y1="461.3" x2="208.7" y2="467.6" stroke="#000" stroke-width="1.5"/>
<text class="t" x="208.7" y="483.9" text-anchor="middle">140</text>
<line x1="239.51" y1="461.3" x2="239.51" y2="467.6" stroke="#000" stroke-width="1.5"/>
<text class="t" x="239.51" y="483.9" text-anchor="middle">168</text>
<line x1="41" y1="454.62" x2="47.3" y2="454.62" stroke="#000" stroke-width="1.5"/>
<text class="t" x="35.5" y="458.62" text-anchor="end">0</text>
<line x1="41" y1="421.23" x2="47.3" y2="421.23" stroke="#000" stroke-width="1.5"/>
<text class="t" x="35.5" y="425.23" text-anchor="end">50</text>
<line x1="41" y1="387.84" x2="47.3" y2="387.84" stroke="#000" stroke-width="1.5"/>
<text class="t" x="35.5" y="391.84" text-anchor="end">100</text>
<line x1="41" y1="354.46" x2="47.3" y2="354.46" stroke="#000" stroke-width="1.5"/>
<text class="t" x="35.5" y="358.46" text-anchor="end">150</text>
<line x1="41" y1="321.07" x2="47.3" y2="321.07" stroke="#000" stroke-width="1.5"/>
<text class="t" x="35.5" y="325.07" text-anchor="end">200</text>
<line x1="41" y1="287.68" x2="47.3" y2="287.68" stroke="#000" stroke-width="1.5"/>
<text class="t" x="35.5" y="291.68" text-anchor="end">250</text>
<text x="147.1" y="507.5" text-anchor="middle">Time after ACE910 administration (day)</text>
<text transform="translate(9.4,371.85) rotate(-90)" text-anchor="middle">Peak height with FVIII neutralization (nM)</text>
<text x="-0.3" y="272.6" style="font-weight:bold;font-size:18px">C</text>
<path d="M56.12 356.1V333.1M54.62 333.1H57.62" stroke="#7a1a30" stroke-width="1.2" fill="none"/>
<path d="M56.12 356.1V379.6M54.62 379.6H57.62" stroke="#7a1a30" stroke-width="1.2" fill="none"/>
<path d="M59.31 357.3V338.8M57.81 338.8H60.81" stroke="#7a1a30" stroke-width="1.2" fill="none"/>
<path d="M59.31 357.3V376M57.81 376H60.81" stroke="#7a1a30" stroke-width="1.2" fill="none"/>
<path d="M62.72 347.1V330M61.22 330H64.22" stroke="#7a1a30" stroke-width="1.2" fill="none"/>
<path d="M62.72 347.1V364.3M61.22 364.3H64.22" stroke="#7a1a30" stroke-width="1.2" fill="none"/>
<path d="M70.42 326.1V305.1M68.92 305.1H71.92" stroke="#7a1a30" stroke-width="1.2" fill="none"/>
<path d="M70.42 326.1V347.1M68.92 347.1H71.92" stroke="#7a1a30" stroke-width="1.2" fill="none"/>
<path d="M85.5 326.7V305.5M84 305.5H87" stroke="#7a1a30" stroke-width="1.2" fill="none"/>
<path d="M85.5 326.7V348.2M84 348.2H87" stroke="#7a1a30" stroke-width="1.2" fill="none"/>
<path d="M100.9 344.1V318.8M99.4 318.8H102.4" stroke="#7a1a30" stroke-width="1.2" fill="none"/>
<path d="M100.9 344.1V369.2M99.4 369.2H102.4" stroke="#7a1a30" stroke-width="1.2" fill="none"/>
<path d="M116.3 368.5V347.3M114.8 347.3H117.8" stroke="#7a1a30" stroke-width="1.2" fill="none"/>
<path d="M116.3 368.5V389.5M114.8 389.5H117.8" stroke="#7a1a30" stroke-width="1.2" fill="none"/>
<path d="M131.7 386.4V370.4M130.2 370.4H133.2" stroke="#7a1a30" stroke-width="1.2" fill="none"/>
<path d="M131.7 386.4V402.3M130.2 402.3H133.2" stroke="#7a1a30" stroke-width="1.2" fill="none"/>
<path d="M147.1 402.1V385.9M145.6 385.9H148.6" stroke="#7a1a30" stroke-width="1.2" fill="none"/>
<path d="M147.1 402.1V418.5M145.6 418.5H148.6" stroke="#7a1a30" stroke-width="1.2" fill="none"/>
<path d="M177.9 421.2V409.6M176.4 409.6H179.4" stroke="#7a1a30" stroke-width="1.2" fill="none"/>
<path d="M177.9 421.2V433M176.4 433H179.4" stroke="#7a1a30" stroke-width="1.2" fill="none"/>
<path d="M208.7 436V427.1M207.2 427.1H210.2" stroke="#7a1a30" stroke-width="1.2" fill="none"/>
<path d="M208.7 436V443M207.2 443H210.2" stroke="#7a1a30" stroke-width="1.2" fill="none"/>
<polyline points="56.12,356.1 59.31,357.3 62.72,347.1 70.42,326.1 85.5,326.7 100.9,344.1 116.3,368.5 131.7,386.4 147.1,402.1 177.9,421.2 208.7,436 239.51,445.1" fill="none" stroke="#b80a2a" stroke-width="2.9" stroke-linejoin="round"/>
<circle cx="56.12" cy="356.1" r="2.5" fill="#fff" stroke="#b80a2a" stroke-width="1.9"/>
<circle cx="59.31" cy="357.3" r="2.5" fill="#fff" stroke="#b80a2a" stroke-width="1.9"/>
<circle cx="62.72" cy="347.1" r="2.5" fill="#fff" stroke="#b80a2a" stroke-width="1.9"/>
<circle cx="70.42" cy="326.1" r="2.5" fill="#fff" stroke="#b80a2a" stroke-width="1.9"/>
<circle cx="85.5" cy="326.7" r="2.5" fill="#fff" stroke="#b80a2a" stroke-width="1.9"/>
<circle cx="100.9" cy="344.1" r="2.5" fill="#fff" stroke="#b80a2a" stroke-width="1.9"/>
<circle cx="116.3" cy="368.5" r="2.5" fill="#fff" stroke="#b80a2a" stroke-width="1.9"/>
<circle cx="131.7" cy="386.4" r="2.5" fill="#fff" stroke="#b80a2a" stroke-width="1.9"/>
<circle cx="147.1" cy="402.1" r="2.5" fill="#fff" stroke="#b80a2a" stroke-width="1.9"/>
<circle cx="177.9" cy="421.2" r="2.5" fill="#fff" stroke="#b80a2a" stroke-width="1.9"/>
<circle cx="208.7" cy="436" r="2.5" fill="#fff" stroke="#b80a2a" stroke-width="1.9"/>
<circle cx="239.51" cy="445.1" r="2.5" fill="#fff" stroke="#b80a2a" stroke-width="1.9"/>
<path d="M59.09 408.8V403M57.59 403H60.59" stroke="#2c2c66" stroke-width="1.2" fill="none"/>
<path d="M59.09 408.8V414M57.59 414H60.59" stroke="#2c2c66" stroke-width="1.2" fill="none"/>
<path d="M62.39 387.3V381M60.89 381H63.89" stroke="#2c2c66" stroke-width="1.2" fill="none"/>
<path d="M62.39 387.3V393M60.89 393H63.89" stroke="#2c2c66" stroke-width="1.2" fill="none"/>
<path d="M70.09 377.6V372M68.59 372H71.59" stroke="#2c2c66" stroke-width="1.2" fill="none"/>
<path d="M70.09 377.6V383M68.59 383H71.59" stroke="#2c2c66" stroke-width="1.2" fill="none"/>
<path d="M85.5 394.3V389M84 389H87" stroke="#2c2c66" stroke-width="1.2" fill="none"/>
<path d="M85.5 394.3V398.5M84 398.5H87" stroke="#2c2c66" stroke-width="1.2" fill="none"/>
<path d="M100.9 403.1V398.5M99.4 398.5H102.4" stroke="#2c2c66" stroke-width="1.2" fill="none"/>
<path d="M100.9 403.1V407M99.4 407H102.4" stroke="#2c2c66" stroke-width="1.2" fill="none"/>
<path d="M116.3 409V404M114.8 404H117.8" stroke="#2c2c66" stroke-width="1.2" fill="none"/>
<path d="M116.3 409V413M114.8 413H117.8" stroke="#2c2c66" stroke-width="1.2" fill="none"/>
<path d="M131.7 419.9V411M130.2 411H133.2" stroke="#2c2c66" stroke-width="1.2" fill="none"/>
<path d="M131.7 419.9V427.4M130.2 427.4H133.2" stroke="#2c2c66" stroke-width="1.2" fill="none"/>
<path d="M147.1 429.6V420.5M145.6 420.5H148.6" stroke="#2c2c66" stroke-width="1.2" fill="none"/>
<path d="M147.1 429.6V438M145.6 438H148.6" stroke="#2c2c66" stroke-width="1.2" fill="none"/>
<path d="M177.9 442.8V438.5M176.4 438.5H179.4" stroke="#2c2c66" stroke-width="1.2" fill="none"/>
<path d="M177.9 442.8V446M176.4 446H179.4" stroke="#2c2c66" stroke-width="1.2" fill="none"/>
<path d="M208.7 449.2V445.5M207.2 445.5H210.2" stroke="#2c2c66" stroke-width="1.2" fill="none"/>
<path d="M208.7 449.2V452M207.2 452H210.2" stroke="#2c2c66" stroke-width="1.2" fill="none"/>
<polyline points="55.79,417 59.09,408.8 62.39,387.3 70.09,377.6 85.5,394.3 100.9,403.1 116.3,409 131.7,419.9 147.1,429.6 177.9,442.8 208.7,449.2" fill="none" stroke="#1c1c72" stroke-width="2.9" stroke-linejoin="round"/>
<path d="M55.79 413.1L59.19 418.95L52.39 418.95Z" fill="#fff" stroke="#1c1c72" stroke-width="1.8" stroke-linejoin="miter"/>
<path d="M59.09 404.9L62.49 410.75L55.69 410.75Z" fill="#fff" stroke="#1c1c72" stroke-width="1.8" stroke-linejoin="miter"/>
<path d="M62.39 383.4L65.79 389.25L58.99 389.25Z" fill="#fff" stroke="#1c1c72" stroke-width="1.8" stroke-linejoin="miter"/>
<path d="M70.09 373.7L73.49 379.55L66.69 379.55Z" fill="#fff" stroke="#1c1c72" stroke-width="1.8" stroke-linejoin="miter"/>
<path d="M85.5 390.4L88.9 396.25L82.1 396.25Z" fill="#fff" stroke="#1c1c72" stroke-width="1.8" stroke-linejoin="miter"/>
<path d="M100.9 399.2L104.3 405.05L97.5 405.05Z" fill="#fff" stroke="#1c1c72" stroke-width="1.8" stroke-linejoin="miter"/>
<path d="M116.3 405.1L119.7 410.95L112.9 410.95Z" fill="#fff" stroke="#1c1c72" stroke-width="1.8" stroke-linejoin="miter"/>
<path d="M131.7 416L135.1 421.85L128.3 421.85Z" fill="#fff" stroke="#1c1c72" stroke-width="1.8" stroke-linejoin="miter"/>
<path d="M147.1 425.7L150.5 431.55L143.7 431.55Z" fill="#fff" stroke="#1c1c72" stroke-width="1.8" stroke-linejoin="miter"/>
<path d="M177.9 438.9L181.3 444.75L174.5 444.75Z" fill="#fff" stroke="#1c1c72" stroke-width="1.8" stroke-linejoin="miter"/>
<path d="M208.7 445.3L212.1 451.15L205.3 451.15Z" fill="#fff" stroke="#1c1c72" stroke-width="1.8" stroke-linejoin="miter"/>
<path d="M56.34 430V426M54.84 426H57.84" stroke="#6f8f60" stroke-width="1.2" fill="none"/>
<path d="M56.34 430V436M54.84 436H57.84" stroke="#6f8f60" stroke-width="1.2" fill="none"/>
<path d="M59.09 419.6V415.5M57.59 415.5H60.59" stroke="#6f8f60" stroke-width="1.2" fill="none"/>
<path d="M59.09 419.6V424M57.59 424H60.59" stroke="#6f8f60" stroke-width="1.2" fill="none"/>
<path d="M62.39 412.3V407.5M60.89 407.5H63.89" stroke="#6f8f60" stroke-width="1.2" fill="none"/>
<path d="M62.39 412.3V417.5M60.89 417.5H63.89" stroke="#6f8f60" stroke-width="1.2" fill="none"/>
<path d="M70.09 409.5V397.2M68.59 397.2H71.59" stroke="#6f8f60" stroke-width="1.2" fill="none"/>
<path d="M70.09 409.5V420.7M68.59 420.7H71.59" stroke="#6f8f60" stroke-width="1.2" fill="none"/>
<path d="M85.5 430.5V426M84 426H87" stroke="#6f8f60" stroke-width="1.2" fill="none"/>
<path d="M85.5 430.5V436M84 436H87" stroke="#6f8f60" stroke-width="1.2" fill="none"/>
<path d="M100.9 433V429.5M99.4 429.5H102.4" stroke="#6f8f60" stroke-width="1.2" fill="none"/>
<path d="M100.9 433V436.5M99.4 436.5H102.4" stroke="#6f8f60" stroke-width="1.2" fill="none"/>
<path d="M116.3 442.3V439.5M114.8 439.5H117.8" stroke="#6f8f60" stroke-width="1.2" fill="none"/>
<path d="M116.3 442.3V445.5M114.8 445.5H117.8" stroke="#6f8f60" stroke-width="1.2" fill="none"/>
<path d="M131.7 441.5V436.7M130.2 436.7H133.2" stroke="#6f8f60" stroke-width="1.2" fill="none"/>
<path d="M131.7 441.5V447.1M130.2 447.1H133.2" stroke="#6f8f60" stroke-width="1.2" fill="none"/>
<path d="M147.1 448V445.5M145.6 445.5H148.6" stroke="#6f8f60" stroke-width="1.2" fill="none"/>
<path d="M147.1 448V451M145.6 451H148.6" stroke="#6f8f60" stroke-width="1.2" fill="none"/>
<polyline points="56.34,430 59.09,419.6 62.39,412.3 70.09,409.5 85.5,430.5 100.9,433 116.3,442.3 131.7,441.5 147.1,448 177.9,451" fill="none" stroke="#52a03e" stroke-width="2.9" stroke-linejoin="round"/>
<rect x="54.19" y="427.85" width="4.3" height="4.3" fill="#fff" stroke="#52a03e" stroke-width="1.8"/>
<rect x="56.94" y="417.45" width="4.3" height="4.3" fill="#fff" stroke="#52a03e" stroke-width="1.8"/>
<rect x="60.24" y="410.15" width="4.3" height="4.3" fill="#fff" stroke="#52a03e" stroke-width="1.8"/>
<rect x="67.94" y="407.35" width="4.3" height="4.3" fill="#fff" stroke="#52a03e" stroke-width="1.8"/>
<rect x="83.35" y="428.35" width="4.3" height="4.3" fill="#fff" stroke="#52a03e" stroke-width="1.8"/>
<rect x="98.75" y="430.85" width="4.3" height="4.3" fill="#fff" stroke="#52a03e" stroke-width="1.8"/>
<rect x="114.15" y="440.15" width="4.3" height="4.3" fill="#fff" stroke="#52a03e" stroke-width="1.8"/>
<rect x="129.55" y="439.35" width="4.3" height="4.3" fill="#fff" stroke="#52a03e" stroke-width="1.8"/>
<rect x="144.95" y="445.85" width="4.3" height="4.3" fill="#fff" stroke="#52a03e" stroke-width="1.8"/>
<rect x="175.75" y="448.85" width="4.3" height="4.3" fill="#fff" stroke="#52a03e" stroke-width="1.8"/>
<polyline points="56.34,448.8 62.39,448.8 70.09,448.8 85.5,448.3" fill="none" stroke="#a0107e" stroke-width="2.9" stroke-linejoin="round"/>
<path d="M56.34 452.7L59.74 446.85L52.94 446.85Z" fill="#fff" stroke="#a0107e" stroke-width="1.8" stroke-linejoin="miter"/>
<path d="M62.39 452.7L65.79 446.85L58.99 446.85Z" fill="#fff" stroke="#a0107e" stroke-width="1.8" stroke-linejoin="miter"/>
<path d="M70.09 452.7L73.49 446.85L66.69 446.85Z" fill="#fff" stroke="#a0107e" stroke-width="1.8" stroke-linejoin="miter"/>
<path d="M85.5 452.2L88.9 446.35L82.1 446.35Z" fill="#fff" stroke="#a0107e" stroke-width="1.8" stroke-linejoin="miter"/>
<polyline points="56.34,452.3 62.39,452.8 70.09,452.8 85.5,453.7" fill="none" stroke="#5fb3ad" stroke-width="2.9" stroke-linejoin="round"/>
<path d="M56.34 449.3L59.34 452.3L56.34 455.3L53.34 452.3Z" fill="#fff" stroke="#5fb3ad" stroke-width="1.8"/>
<path d="M62.39 449.8L65.39 452.8L62.39 455.8L59.39 452.8Z" fill="#fff" stroke="#5fb3ad" stroke-width="1.8"/>
<path d="M70.09 449.8L73.09 452.8L70.09 455.8L67.09 452.8Z" fill="#fff" stroke="#5fb3ad" stroke-width="1.8"/>
<path d="M85.5 450.7L88.5 453.7L85.5 456.7L82.5 453.7Z" fill="#fff" stroke="#5fb3ad" stroke-width="1.8"/>
<line x1="155.2" y1="299.7" x2="175.6" y2="299.7" stroke="#b80a2a" stroke-width="2.9"/>
<circle cx="165.4" cy="299.7" r="2.5" fill="#fff" stroke="#b80a2a" stroke-width="1.9"/>
<text x="184" y="303.2">1 mg/kg</text>
<line x1="155.2" y1="311.7" x2="175.6" y2="311.7" stroke="#1c1c72" stroke-width="2.9"/>
<path d="M165.4 307.8L168.8 313.65L162 313.65Z" fill="#fff" stroke="#1c1c72" stroke-width="1.8" stroke-linejoin="miter"/>
<text x="184" y="315.2">0.3 mg/kg</text>
<line x1="155.2" y1="323.7" x2="175.6" y2="323.7" stroke="#52a03e" stroke-width="2.9"/>
<rect x="163.25" y="321.55" width="4.3" height="4.3" fill="#fff" stroke="#52a03e" stroke-width="1.8"/>
<text x="184" y="327.2">0.1 mg/kg</text>
<line x1="155.2" y1="335.7" x2="175.6" y2="335.7" stroke="#a0107e" stroke-width="2.9"/>
<path d="M165.4 339.6L168.8 333.75L162 333.75Z" fill="#fff" stroke="#a0107e" stroke-width="1.8" stroke-linejoin="miter"/>
<text x="184" y="339.2">0.01 mg/kg</text>
<line x1="155.2" y1="347.7" x2="175.6" y2="347.7" stroke="#5fb3ad" stroke-width="2.9"/>
<path d="M165.4 344.7L168.4 347.7L165.4 350.7L162.4 347.7Z" fill="#fff" stroke="#5fb3ad" stroke-width="1.8"/>
<text x="184" y="351.2">0.001 mg/kg</text>
<rect x="319.3" y="281" width="199.2" height="180.3" fill="none" stroke="#000" stroke-width="1.8"/>
<line x1="326.68" y1="461.3" x2="326.68" y2="467.6" stroke="#000" stroke-width="1.5"/>
<text class="t" x="326.68" y="483.9" text-anchor="middle">0</text>
<line x1="357.42" y1="461.3" x2="357.42" y2="467.6" stroke="#000" stroke-width="1.5"/>
<text class="t" x="357.42" y="483.9" text-anchor="middle">28</text>
<line x1="388.16" y1="461.3" x2="388.16" y2="467.6" stroke="#000" stroke-width="1.5"/>
<text class="t" x="388.16" y="483.9" text-anchor="middle">56</text>
<line x1="418.9" y1="461.3" x2="418.9" y2="467.6" stroke="#000" stroke-width="1.5"/>
<text class="t" x="418.9" y="483.9" text-anchor="middle">84</text>
<line x1="449.64" y1="461.3" x2="449.64" y2="467.6" stroke="#000" stroke-width="1.5"/>
<text class="t" x="449.64" y="483.9" text-anchor="middle">112</text>
<line x1="480.38" y1="461.3" x2="480.38" y2="467.6" stroke="#000" stroke-width="1.5"/>
<text class="t" x="480.38" y="483.9" text-anchor="middle">140</text>
<line x1="511.12" y1="461.3" x2="511.12" y2="467.6" stroke="#000" stroke-width="1.5"/>
<text class="t" x="511.12" y="483.9" text-anchor="middle">168</text>
<line x1="313" y1="454.62" x2="319.3" y2="454.62" stroke="#000" stroke-width="1.5"/>
<text class="t" x="307.5" y="458.62" text-anchor="end">0</text>
<line x1="313" y1="421.23" x2="319.3" y2="421.23" stroke="#000" stroke-width="1.5"/>
<text class="t" x="307.5" y="425.23" text-anchor="end">50</text>
<line x1="313" y1="387.84" x2="319.3" y2="387.84" stroke="#000" stroke-width="1.5"/>
<text class="t" x="307.5" y="391.84" text-anchor="end">100</text>
<line x1="313" y1="354.46" x2="319.3" y2="354.46" stroke="#000" stroke-width="1.5"/>
<text class="t" x="307.5" y="358.46" text-anchor="end">150</text>
<line x1="313" y1="321.07" x2="319.3" y2="321.07" stroke="#000" stroke-width="1.5"/>
<text class="t" x="307.5" y="325.07" text-anchor="end">200</text>
<line x1="313" y1="287.68" x2="319.3" y2="287.68" stroke="#000" stroke-width="1.5"/>
<text class="t" x="307.5" y="291.68" text-anchor="end">250</text>
<text x="418.9" y="507.5" text-anchor="middle">Time after ACE910 administration (day)</text>
<text transform="translate(281.4,371.85) rotate(-90)" text-anchor="middle">Peak height with FVIII neutralization (nM)</text>
<text x="271" y="272.6" style="font-weight:bold;font-size:18px">D</text>
<path d="M328.11 342.9V322.6M326.61 322.6H329.61" stroke="#7a1a30" stroke-width="1.2" fill="none"/>
<path d="M328.11 342.9V361.5M326.61 361.5H329.61" stroke="#7a1a30" stroke-width="1.2" fill="none"/>
<path d="M331.07 329.9V311.7M329.57 311.7H332.57" stroke="#7a1a30" stroke-width="1.2" fill="none"/>
<path d="M331.07 329.9V347.8M329.57 347.8H332.57" stroke="#7a1a30" stroke-width="1.2" fill="none"/>
<path d="M334.69 331.4V315.6M333.19 315.6H336.19" stroke="#7a1a30" stroke-width="1.2" fill="none"/>
<path d="M334.69 331.4V347.2M333.19 347.2H336.19" stroke="#7a1a30" stroke-width="1.2" fill="none"/>
<path d="M342.05 334.7V328M340.55 328H343.55" stroke="#7a1a30" stroke-width="1.2" fill="none"/>
<path d="M342.05 334.7V341.3M340.55 341.3H343.55" stroke="#7a1a30" stroke-width="1.2" fill="none"/>
<path d="M357.42 343.4V323.3M355.92 323.3H358.92" stroke="#7a1a30" stroke-width="1.2" fill="none"/>
<path d="M357.42 343.4V364.1M355.92 364.1H358.92" stroke="#7a1a30" stroke-width="1.2" fill="none"/>
<path d="M372.79 353.7V342M371.29 342H374.29" stroke="#7a1a30" stroke-width="1.2" fill="none"/>
<path d="M372.79 353.7V365.5M371.29 365.5H374.29" stroke="#7a1a30" stroke-width="1.2" fill="none"/>
<path d="M388.16 371.4V346.5M386.66 346.5H389.66" stroke="#7a1a30" stroke-width="1.2" fill="none"/>
<path d="M388.16 371.4V396M386.66 396H389.66" stroke="#7a1a30" stroke-width="1.2" fill="none"/>
<path d="M403.53 383.1V366M402.03 366H405.03" stroke="#7a1a30" stroke-width="1.2" fill="none"/>
<path d="M403.53 383.1V400M402.03 400H405.03" stroke="#7a1a30" stroke-width="1.2" fill="none"/>
<path d="M418.9 392.8V373.1M417.4 373.1H420.4" stroke="#7a1a30" stroke-width="1.2" fill="none"/>
<path d="M418.9 392.8V412.9M417.4 412.9H420.4" stroke="#7a1a30" stroke-width="1.2" fill="none"/>
<path d="M449.64 405.5V387.5M448.14 387.5H451.14" stroke="#7a1a30" stroke-width="1.2" fill="none"/>
<path d="M449.64 405.5V423.5M448.14 423.5H451.14" stroke="#7a1a30" stroke-width="1.2" fill="none"/>
<path d="M480.38 423.5V404.8M478.88 404.8H481.88" stroke="#7a1a30" stroke-width="1.2" fill="none"/>
<path d="M480.38 423.5V440.4M478.88 440.4H481.88" stroke="#7a1a30" stroke-width="1.2" fill="none"/>
<path d="M511.12 437.2V426M509.62 426H512.62" stroke="#7a1a30" stroke-width="1.2" fill="none"/>
<path d="M511.12 437.2V448.4M509.62 448.4H512.62" stroke="#7a1a30" stroke-width="1.2" fill="none"/>
<polyline points="328.11,342.9 331.07,329.9 334.69,331.4 342.05,334.7 357.42,343.4 372.79,353.7 388.16,371.4 403.53,383.1 418.9,392.8 449.64,405.5 480.38,423.5 511.12,437.2" fill="none" stroke="#b80a2a" stroke-width="2.9" stroke-linejoin="round"/>
<circle cx="328.11" cy="342.9" r="2.5" fill="#fff" stroke="#b80a2a" stroke-width="1.9"/>
<circle cx="331.07" cy="329.9" r="2.5" fill="#fff" stroke="#b80a2a" stroke-width="1.9"/>
<circle cx="334.69" cy="331.4" r="2.5" fill="#fff" stroke="#b80a2a" stroke-width="1.9"/>
<circle cx="342.05" cy="334.7" r="2.5" fill="#fff" stroke="#b80a2a" stroke-width="1.9"/>
<circle cx="357.42" cy="343.4" r="2.5" fill="#fff" stroke="#b80a2a" stroke-width="1.9"/>
<circle cx="372.79" cy="353.7" r="2.5" fill="#fff" stroke="#b80a2a" stroke-width="1.9"/>
<circle cx="388.16" cy="371.4" r="2.5" fill="#fff" stroke="#b80a2a" stroke-width="1.9"/>
<circle cx="403.53" cy="383.1" r="2.5" fill="#fff" stroke="#b80a2a" stroke-width="1.9"/>
<circle cx="418.9" cy="392.8" r="2.5" fill="#fff" stroke="#b80a2a" stroke-width="1.9"/>
<circle cx="449.64" cy="405.5" r="2.5" fill="#fff" stroke="#b80a2a" stroke-width="1.9"/>
<circle cx="480.38" cy="423.5" r="2.5" fill="#fff" stroke="#b80a2a" stroke-width="1.9"/>
<circle cx="511.12" cy="437.2" r="2.5" fill="#fff" stroke="#b80a2a" stroke-width="1.9"/>
<path d="M328 376.5V361.8M326.5 361.8H329.5" stroke="#2c2c66" stroke-width="1.2" fill="none"/>
<path d="M328 376.5V389M326.5 389H329.5" stroke="#2c2c66" stroke-width="1.2" fill="none"/>
<path d="M331.07 381.7V371M329.57 371H332.57" stroke="#2c2c66" stroke-width="1.2" fill="none"/>
<path d="M331.07 381.7V392M329.57 392H332.57" stroke="#2c2c66" stroke-width="1.2" fill="none"/>
<path d="M334.58 388.8V380M333.08 380H336.08" stroke="#2c2c66" stroke-width="1.2" fill="none"/>
<path d="M334.58 388.8V401.8M333.08 401.8H336.08" stroke="#2c2c66" stroke-width="1.2" fill="none"/>
<path d="M342.05 383.4V369.4M340.55 369.4H343.55" stroke="#2c2c66" stroke-width="1.2" fill="none"/>
<path d="M342.05 383.4V396.3M340.55 396.3H343.55" stroke="#2c2c66" stroke-width="1.2" fill="none"/>
<path d="M357.42 382.7V369.4M355.92 369.4H358.92" stroke="#2c2c66" stroke-width="1.2" fill="none"/>
<path d="M357.42 382.7V394.9M355.92 394.9H358.92" stroke="#2c2c66" stroke-width="1.2" fill="none"/>
<path d="M372.79 383.4V370.8M371.29 370.8H374.29" stroke="#2c2c66" stroke-width="1.2" fill="none"/>
<path d="M372.79 383.4V396.3M371.29 396.3H374.29" stroke="#2c2c66" stroke-width="1.2" fill="none"/>
<path d="M388.16 403.6V395.3M386.66 395.3H389.66" stroke="#2c2c66" stroke-width="1.2" fill="none"/>
<path d="M388.16 403.6V414.9M386.66 414.9H389.66" stroke="#2c2c66" stroke-width="1.2" fill="none"/>
<path d="M403.53 411.1V405.5M402.03 405.5H405.03" stroke="#2c2c66" stroke-width="1.2" fill="none"/>
<path d="M403.53 411.1V417.8M402.03 417.8H405.03" stroke="#2c2c66" stroke-width="1.2" fill="none"/>
<path d="M418.9 420.8V411.8M417.4 411.8H420.4" stroke="#2c2c66" stroke-width="1.2" fill="none"/>
<path d="M418.9 420.8V430.9M417.4 430.9H420.4" stroke="#2c2c66" stroke-width="1.2" fill="none"/>
<path d="M449.64 436.2V430.5M448.14 430.5H451.14" stroke="#2c2c66" stroke-width="1.2" fill="none"/>
<path d="M449.64 436.2V440M448.14 440H451.14" stroke="#2c2c66" stroke-width="1.2" fill="none"/>
<path d="M480.38 441.9V437.5M478.88 437.5H481.88" stroke="#2c2c66" stroke-width="1.2" fill="none"/>
<path d="M480.38 441.9V445M478.88 445H481.88" stroke="#2c2c66" stroke-width="1.2" fill="none"/>
<polyline points="328,376.5 331.07,381.7 334.58,388.8 342.05,383.4 357.42,382.7 372.79,383.4 388.16,403.6 403.53,411.1 418.9,420.8 449.64,436.2 480.38,441.9" fill="none" stroke="#1c1c72" stroke-width="2.9" stroke-linejoin="round"/>
<path d="M328 372.6L331.4 378.45L324.6 378.45Z" fill="#fff" stroke="#1c1c72" stroke-width="1.8" stroke-linejoin="miter"/>
<path d="M331.07 377.8L334.47 383.65L327.67 383.65Z" fill="#fff" stroke="#1c1c72" stroke-width="1.8" stroke-linejoin="miter"/>
<path d="M334.58 384.9L337.98 390.75L331.18 390.75Z" fill="#fff" stroke="#1c1c72" stroke-width="1.8" stroke-linejoin="miter"/>
<path d="M342.05 379.5L345.45 385.35L338.65 385.35Z" fill="#fff" stroke="#1c1c72" stroke-width="1.8" stroke-linejoin="miter"/>
<path d="M357.42 378.8L360.82 384.65L354.02 384.65Z" fill="#fff" stroke="#1c1c72" stroke-width="1.8" stroke-linejoin="miter"/>
<path d="M372.79 379.5L376.19 385.35L369.39 385.35Z" fill="#fff" stroke="#1c1c72" stroke-width="1.8" stroke-linejoin="miter"/>
<path d="M388.16 399.7L391.56 405.55L384.76 405.55Z" fill="#fff" stroke="#1c1c72" stroke-width="1.8" stroke-linejoin="miter"/>
<path d="M403.53 407.2L406.93 413.05L400.13 413.05Z" fill="#fff" stroke="#1c1c72" stroke-width="1.8" stroke-linejoin="miter"/>
<path d="M418.9 416.9L422.3 422.75L415.5 422.75Z" fill="#fff" stroke="#1c1c72" stroke-width="1.8" stroke-linejoin="miter"/>
<path d="M449.64 432.3L453.04 438.15L446.24 438.15Z" fill="#fff" stroke="#1c1c72" stroke-width="1.8" stroke-linejoin="miter"/>
<path d="M480.38 438L483.78 443.85L476.98 443.85Z" fill="#fff" stroke="#1c1c72" stroke-width="1.8" stroke-linejoin="miter"/>
<path d="M328.32 434.6V430.6M326.82 430.6H329.82" stroke="#6f8f60" stroke-width="1.2" fill="none"/>
<path d="M328.32 434.6V444.3M326.82 444.3H329.82" stroke="#6f8f60" stroke-width="1.2" fill="none"/>
<path d="M334.36 408V403M332.86 403H335.86" stroke="#6f8f60" stroke-width="1.2" fill="none"/>
<path d="M334.36 408V414M332.86 414H335.86" stroke="#6f8f60" stroke-width="1.2" fill="none"/>
<path d="M342.05 409.6V399.6M340.55 399.6H343.55" stroke="#6f8f60" stroke-width="1.2" fill="none"/>
<path d="M342.05 409.6V419.6M340.55 419.6H343.55" stroke="#6f8f60" stroke-width="1.2" fill="none"/>
<path d="M357.42 420.4V414.5M355.92 414.5H358.92" stroke="#6f8f60" stroke-width="1.2" fill="none"/>
<path d="M357.42 420.4V426.2M355.92 426.2H358.92" stroke="#6f8f60" stroke-width="1.2" fill="none"/>
<path d="M372.79 436.1V431M371.29 431H374.29" stroke="#6f8f60" stroke-width="1.2" fill="none"/>
<path d="M372.79 436.1V441M371.29 441H374.29" stroke="#6f8f60" stroke-width="1.2" fill="none"/>
<path d="M388.16 436.5V431.5M386.66 431.5H389.66" stroke="#6f8f60" stroke-width="1.2" fill="none"/>
<path d="M388.16 436.5V441.5M386.66 441.5H389.66" stroke="#6f8f60" stroke-width="1.2" fill="none"/>
<path d="M403.53 436.1V431M402.03 431H405.03" stroke="#6f8f60" stroke-width="1.2" fill="none"/>
<path d="M403.53 436.1V441M402.03 441H405.03" stroke="#6f8f60" stroke-width="1.2" fill="none"/>
<path d="M418.9 438V434M417.4 434H420.4" stroke="#6f8f60" stroke-width="1.2" fill="none"/>
<path d="M418.9 438V442M417.4 442H420.4" stroke="#6f8f60" stroke-width="1.2" fill="none"/>
<polyline points="328.32,434.6 331.07,425.1 334.36,408 342.05,409.6 357.42,420.4 372.79,436.1 388.16,436.5 403.53,436.1 418.9,438 449.64,446.7" fill="none" stroke="#52a03e" stroke-width="2.9" stroke-linejoin="round"/>
<rect x="326.17" y="432.45" width="4.3" height="4.3" fill="#fff" stroke="#52a03e" stroke-width="1.8"/>
<rect x="328.92" y="422.95" width="4.3" height="4.3" fill="#fff" stroke="#52a03e" stroke-width="1.8"/>
<rect x="332.21" y="405.85" width="4.3" height="4.3" fill="#fff" stroke="#52a03e" stroke-width="1.8"/>
<rect x="339.9" y="407.45" width="4.3" height="4.3" fill="#fff" stroke="#52a03e" stroke-width="1.8"/>
<rect x="355.27" y="418.25" width="4.3" height="4.3" fill="#fff" stroke="#52a03e" stroke-width="1.8"/>
<rect x="370.64" y="433.95" width="4.3" height="4.3" fill="#fff" stroke="#52a03e" stroke-width="1.8"/>
<rect x="386.01" y="434.35" width="4.3" height="4.3" fill="#fff" stroke="#52a03e" stroke-width="1.8"/>
<rect x="401.38" y="433.95" width="4.3" height="4.3" fill="#fff" stroke="#52a03e" stroke-width="1.8"/>
<rect x="416.75" y="435.85" width="4.3" height="4.3" fill="#fff" stroke="#52a03e" stroke-width="1.8"/>
<rect x="447.49" y="444.55" width="4.3" height="4.3" fill="#fff" stroke="#52a03e" stroke-width="1.8"/>
<line x1="427" y1="299.8" x2="447.2" y2="299.8" stroke="#b80a2a" stroke-width="2.9"/>
<circle cx="437.1" cy="299.8" r="2.5" fill="#fff" stroke="#b80a2a" stroke-width="1.9"/>
<text x="455.5" y="303.3">1 mg/kg</text>
<line x1="427" y1="311.8" x2="447.2" y2="311.8" stroke="#1c1c72" stroke-width="2.9"/>
<path d="M437.1 307.9L440.5 313.75L433.7 313.75Z" fill="#fff" stroke="#1c1c72" stroke-width="1.8" stroke-linejoin="miter"/>
<text x="455.5" y="315.3">0.3 mg/kg</text>
<line x1="427" y1="323.8" x2="447.2" y2="323.8" stroke="#52a03e" stroke-width="2.9"/>
<rect x="434.95" y="321.65" width="4.3" height="4.3" fill="#fff" stroke="#52a03e" stroke-width="1.8"/>
<text x="455.5" y="327.3">0.1 mg/kg</text>
</svg>
</body></html>
